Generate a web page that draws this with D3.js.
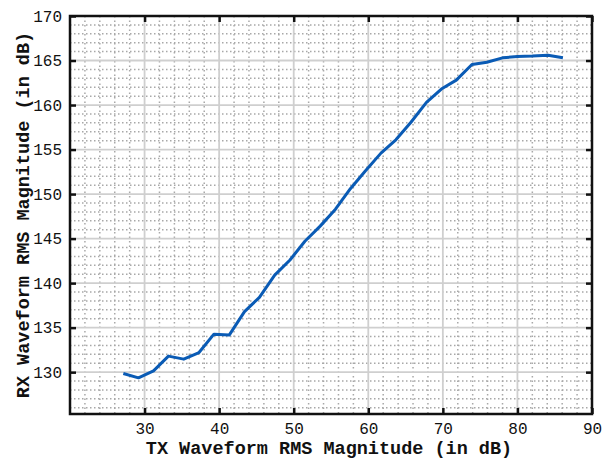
<!DOCTYPE html>
<html>
<head>
<meta charset="utf-8">
<script src="https://cdn.jsdelivr.net/npm/d3@7"></script>
<style>
  body { margin: 0; background: #fff; }
  svg { display: block; }
</style>
</head>
<body>
<svg id="chart" width="603" height="460"></svg>
<script>
// data
const txLevels = [27.15, 29.18, 31.2, 33.2, 35.25, 37.3, 39.3, 41.35, 43.4, 45.4,
  47.45, 49.5, 51.5, 53.55, 55.6, 57.6, 59.6, 61.7, 63.7, 65.75,
  67.8, 69.8, 71.8, 73.9, 75.9, 78, 80, 82, 84.1, 86.1]
const rxLevels = [129.85, 129.36, 130.15, 131.8, 131.46, 132.2, 134.27, 134.16, 136.8, 138.4,
  140.9, 142.6, 144.7, 146.4, 148.3, 150.6, 152.6, 154.6, 156.1, 158.1,
  160.3, 161.8, 162.8, 164.55, 164.8, 165.3, 165.45, 165.5, 165.6, 165.3]
const xTicks = [30, 40, 50, 60, 70, 80, 90]
const yTicks = [130, 135, 140, 145, 150, 155, 160, 165, 170]

const data = txLevels.map((t, i) => ({tx: t, rx: rxLevels[i]}))

const svg = d3.select("#chart")
const width = 603, height = 460
const margin = {top: 16, right: 11, bottom: 46, left: 70}
const font = "'Liberation Mono', 'Courier New', monospace"

// scales
const x = d3.scaleLinear()
  .domain([20, 90])
  .range([margin.left, width - margin.right])

const y = d3.scaleLinear()
  .domain([125.3, 170])
  .range([height - margin.bottom, margin.top])

const x0 = x.range()[0], x1 = x.range()[1]
const y0 = y.range()[0], y1 = y.range()[1]

// minor dotted grid (the speckled texture)
const minorX = d3.range(22, 90, 2)
const minorY = d3.range(126, 170, 1)

svg.append("g")
  .selectAll("line")
  .data(minorX.filter(v => v % 10 !== 0))
  .enter()
  .append("line")
    .attr("x1", d => x(d)).attr("x2", d => x(d))
    .attr("y1", y1).attr("y2", y0)
    .attr("stroke", "#a8a8a8")
    .attr("stroke-width", 1.5)
    .attr("stroke-dasharray", "1.5,3")

svg.append("g")
  .selectAll("line")
  .data(minorY.filter(v => v % 5 !== 0))
  .enter()
  .append("line")
    .attr("x1", x0).attr("x2", x1)
    .attr("y1", d => y(d)).attr("y2", d => y(d))
    .attr("stroke", "#a8a8a8")
    .attr("stroke-width", 1.5)
    .attr("stroke-dasharray", "1.5,2.5")

// major grid
svg.append("g")
  .selectAll("line")
  .data(d3.range(20, 91, 10))
  .enter()
  .append("line")
    .attr("x1", d => x(d)).attr("x2", d => x(d))
    .attr("y1", y1).attr("y2", y0)
    .attr("stroke", "#cfcfcf")
    .attr("stroke-width", 1.8)

svg.append("g")
  .selectAll("line")
  .data(yTicks)
  .enter()
  .append("line")
    .attr("x1", x0).attr("x2", x1)
    .attr("y1", d => y(d)).attr("y2", d => y(d))
    .attr("stroke", "#cfcfcf")
    .attr("stroke-width", 1.8)

// data line
svg.append("path")
  .datum(data)
  .attr("fill", "none")
  .attr("stroke", "#0a5bb5")
  .attr("stroke-width", 3)
  .attr("stroke-linejoin", "round")
  .attr("d", d3.line()
    .x(d => x(d.tx))
    .y(d => y(d.rx)))

// axes, ticks pointing inward
const xAxis = svg.append("g")
  .attr("transform", "translate(0," + y0 + ")")
  .call(d3.axisBottom(x).tickValues(xTicks).tickSizeInner(-6).tickSizeOuter(0).tickPadding(9))

const xTop = svg.append("g")
  .attr("transform", "translate(0," + y1 + ")")
  .call(d3.axisTop(x).tickValues(xTicks).tickSizeInner(-6).tickSizeOuter(0).tickFormat(""))

const yAxis = svg.append("g")
  .attr("transform", "translate(" + x0 + ",0)")
  .call(d3.axisLeft(y).tickValues(yTicks).tickSizeInner(-6).tickSizeOuter(0).tickPadding(8))

const yRight = svg.append("g")
  .attr("transform", "translate(" + x1 + ",0)")
  .call(d3.axisRight(y).tickValues(yTicks).tickSizeInner(-6).tickSizeOuter(0).tickFormat(""))

for (const g of [xAxis, xTop, yAxis, yRight]) {
  g.select(".domain").remove()
  g.selectAll(".tick line").attr("stroke", "#111").attr("stroke-width", 2.5)
  g.selectAll("text")
    .attr("fill", "#111")
    .style("font-family", font)
    .style("font-size", "16px")
}

// box
svg.append("rect")
  .attr("x", x0).attr("y", y1)
  .attr("width", x1 - x0).attr("height", y0 - y1)
  .attr("fill", "none")
  .attr("stroke", "#111")
  .attr("stroke-width", 2.5)

// axis titles
svg.append("text")
  .attr("x", (x0 + x1) / 2 - 2)
  .attr("y", 454)
  .attr("text-anchor", "middle")
  .attr("fill", "#111")
  .style("font-family", font)
  .style("font-size", "18.5px")
  .style("font-weight", "bold")
  .text("TX Waveform RMS Magnitude (in dB)")

svg.append("text")
  .attr("transform", "translate(29," + ((y0 + y1) / 2) + ")rotate(-90)")
  .attr("text-anchor", "middle")
  .attr("fill", "#111")
  .style("font-family", font)
  .style("font-size", "18.5px")
  .style("font-weight", "bold")
  .text("RX Waveform RMS Magnitude (in dB)")
</script>
</body>
</html>
